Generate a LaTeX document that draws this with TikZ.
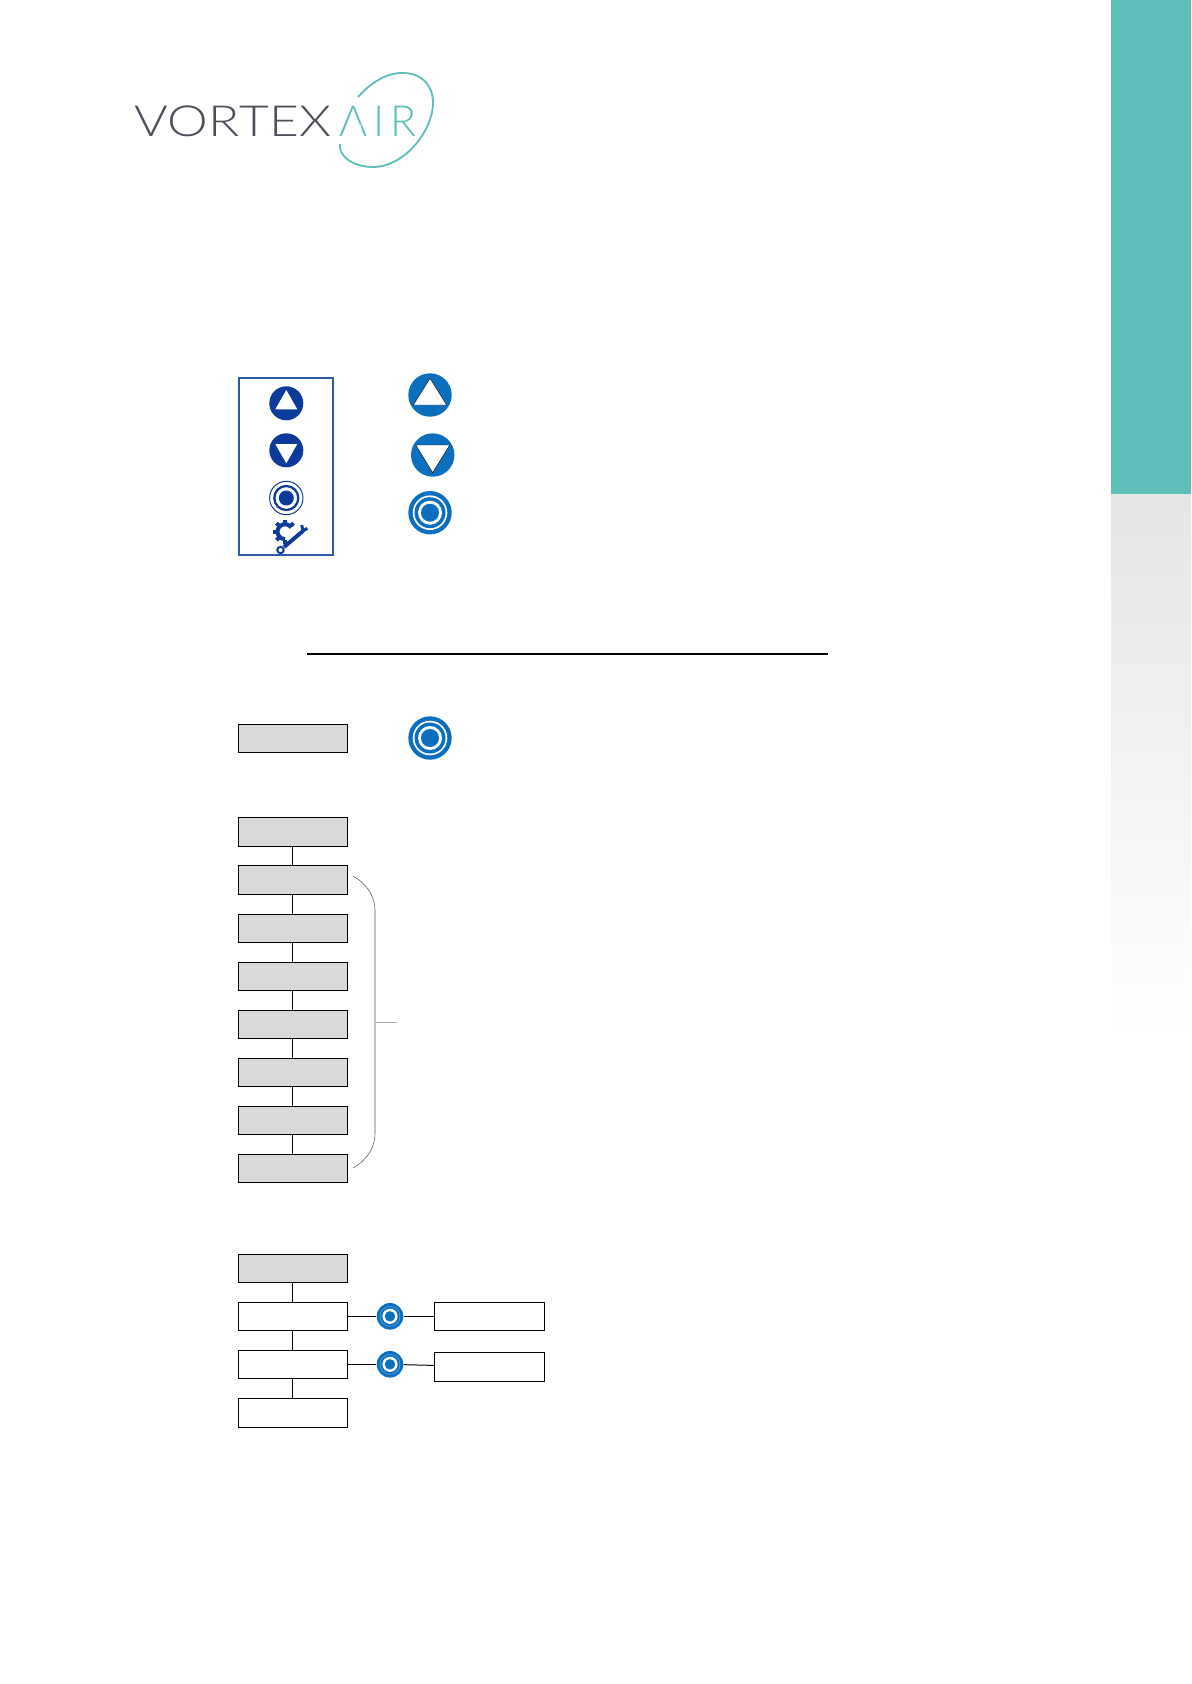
\documentclass[tikz,border=0pt]{standalone}
\usepackage{fontspec}
\newfontfamily\logofont[LetterSpace=1,FakeStretch=1.2]{Lato Light}
\newfontfamily\airfont[LetterSpace=13]{Lato Light}
\definecolor{bandteal}{HTML}{5DBFB8}
\definecolor{logogrey}{HTML}{4A4F5A}
\definecolor{keyblue}{HTML}{0B6FC0}
\definecolor{paneblue}{HTML}{0A3A9A}
\definecolor{paneline}{HTML}{2A5CA8}
\definecolor{boxgrey}{HTML}{D9D9D9}
\tikzset{
  menubox/.style={draw=black, line width=0.7pt, minimum width=2.72cm, minimum height=0.71cm, inner sep=0pt},
  greybox/.style={menubox, fill=boxgrey},
  whitebox/.style={menubox, fill=white},
  okdot/.style={circle, fill=keyblue, minimum size=0.665cm, inner sep=0pt},
  link/.style={line width=0.7pt},
  pics/keytarget/.style={code={
    \fill[keyblue] (0,0) circle[radius=21.7];
    \fill[white] (0,0) circle[radius=17.3];
    \fill[keyblue] (0,0) circle[radius=15.5];
    \fill[white] (0,0) circle[radius=12];
    \fill[keyblue] (0,0) circle[radius=9];
  }},
}
\begin{document}
\begin{tikzpicture}[x=0.025cm, y=-0.025cm]
  \useasboundingbox (0,0) rectangle (1191,1684);
  % side band
  \fill[bandteal] (1111,0) rectangle (1191,494);
  \shade[top color=black!10, bottom color=white] (1111,494) rectangle (1191,1040);
  % logo
  \node[font=\logofont\fontsize{30.5}{30.5}\selectfont, text=logogrey, anchor=base west, inner sep=0pt] (vortex) at (134,136) {VORTEX};
  \node[font=\airfont\fontsize{30.5}{30.5}\selectfont, text=bandteal, anchor=base west, inner sep=0pt] (air) at (339.5,136) {AIR};
  \fill[white] (345.3,129) -- (361.7,129) -- (360.7,125) -- (346.3,125) -- cycle;
  \draw[bandteal, line width=1.3pt] (358,97) .. controls (375,78) and (392,72) .. (405,73)
    .. controls (422,74) and (433,85) .. (433,103)
    .. controls (433,130) and (405,167) .. (373,167)
    .. controls (352,167) and (338,155) .. (340,144);
  % panel
  \draw[paneline, line width=1.3pt] (239.3,377.7) rectangle (333.3,555);
  \fill[paneblue] (286.3,403.3) circle[radius=17];
  \fill[white] (286.3,390) -- (275.3,409.3) -- (297.3,409.3) -- cycle;
  \fill[paneblue] (286.3,450.3) circle[radius=17];
  \fill[white] (286.3,463.3) -- (275.3,444) -- (297.3,444) -- cycle;
  \draw[paneblue, line width=0.7pt] (286.3,498) circle[radius=16.7];
  \draw[paneblue, line width=1.6pt] (286.3,498) circle[radius=12];
  \fill[paneblue] (286.3,498) circle[radius=7.5];
  % gear and spanner
  \draw[paneblue, line width=2.9pt] (291.2,527.5) arc[start angle=-34, end angle=-270, radius=7.5];
  \foreach \a in {-45,-90,...,-270}
    \draw[paneblue, line width=2.8pt] (285,531.7) ++(\a:8) -- ++(\a:4);
  \draw[paneblue, line width=2.8pt] (284,547) -- (303,531);
  \draw[paneblue, line width=1.4pt] (280.5,550) circle[radius=3.2];
  \draw[paneblue, line width=2.1pt] (303,531) -- (307.3,528.3) (303,531) -- (301.7,525);
  % keys
  \fill[keyblue] (430,395) circle[radius=21.7];
  \filldraw[fill=white, draw=black, line width=0.3pt] (430,378.3) -- (413.3,405) -- (446.7,405) -- cycle;
  \fill[keyblue] (432.7,455) circle[radius=21.7];
  \filldraw[fill=white, draw=black, line width=0.3pt] (432.7,472.7) -- (415.7,445) -- (449.7,445) -- cycle;
  \pic at (430,512.7) {keytarget};
  % rule
  \draw[black, line width=1pt] (307,654) -- (828,654);
  % first step
  \node[greybox] (start) at (292.8,738.3) {};
  \pic at (430,738) {keytarget};
  % menu
  \node[greybox] (m0) at (292.8,831.8) {};
  \node[greybox] (m1) at (292.8,879.8) {};
  \node[greybox] (m2) at (292.8,928.3) {};
  \node[greybox] (m3) at (292.8,976.3) {};
  \node[greybox] (m4) at (292.8,1024.3) {};
  \node[greybox] (m5) at (292.8,1072.3) {};
  \node[greybox] (m6) at (292.8,1120.3) {};
  \node[greybox] (m7) at (292.8,1168.3) {};
  \foreach \i [remember=\i as \last (initially m0)] in {m1,m2,m3,m4,m5,m6,m7}
    \draw[link] (\last) -- (\i);
  % bracket
  \draw[black!65, line width=0.4pt] (353,876) .. controls (366,883) and (375,896) .. (375,910)
    -- (375,1134) .. controls (375,1148) and (366,1161) .. (353,1168);
  \draw[black!35, line width=0.5pt] (375,1022) -- (397,1022);
  % lower menu
  \node[greybox] (s0) at (292.8,1268.3) {};
  \node[whitebox] (s1) at (292.8,1316.3) {};
  \node[whitebox] (s2) at (292.8,1364.3) {};
  \node[whitebox] (s3) at (292.8,1412.8) {};
  \node[whitebox, minimum width=2.75cm] (r1) at (489.3,1316.3) {};
  \node[whitebox, minimum width=2.75cm] (r2) at (489.3,1366.8) {};
  \node[okdot] (ok1) at (390,1316.3) {};
  \node[okdot] (ok2) at (390,1364.3) {};
  \foreach \i in {ok1,ok2} {
    \draw[keyblue!55!white, line width=0.3pt] (\i) circle[radius=10];
    \fill[white] (\i) circle[radius=7.6];
    \fill[keyblue] (\i) circle[radius=5.2];
  }
  \draw[link] (s0) -- (s1);
  \draw[link] (s1) -- (s2);
  \draw[link] (s2) -- (s3);
  \draw[link] (s1) -- (ok1);
  \draw[link] (ok1) -- (r1);
  \draw[link] (s2) -- (ok2);
  \draw[link] (ok2) -- (r2);
\end{tikzpicture}
\end{document}
